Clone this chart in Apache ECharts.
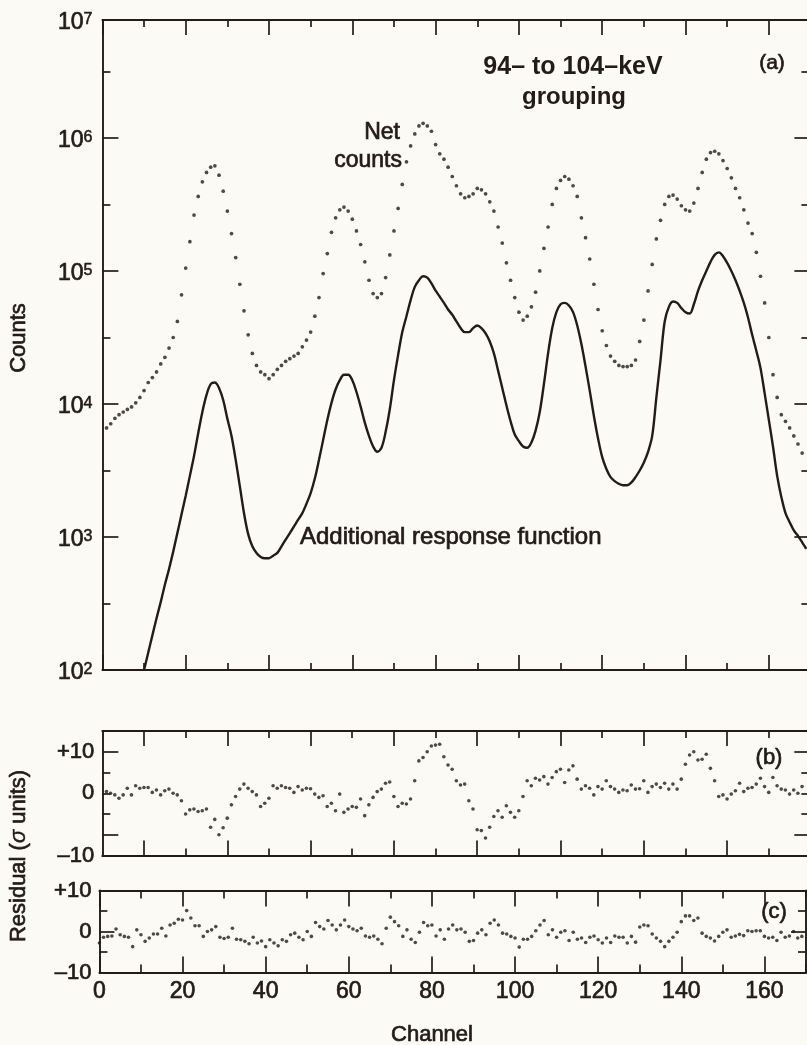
<!DOCTYPE html>
<html>
<head>
<meta charset="utf-8">
<script src="https://cdn.jsdelivr.net/npm/echarts@6.0.0/dist/echarts.min.js"></script>
<style>
html,body{margin:0;padding:0;background:#fbfaf5;}
#chart{width:807px;height:1045px;}
</style>
</head>
<body>
<div id="chart"></div>
<script>
// ---------------- DATA ----------------
// Panel (a): net counts, one dot per channel, starting at channel 1
const netStartChannel = 1;
const netCounts = [
  6600, 7100, 7800, 8300, 8700, 9100, 9500, 10200, 11200, 12600,
  14500, 15800, 17400, 20000, 22400, 26300, 31600, 41700, 66100, 105000,
  166000, 263000, 363000, 468000, 550000, 603000, 617000, 525000, 398000, 282000,
  191000, 126000, 79400, 50100, 33100, 24000, 19500, 17400, 16600, 15500,
  16600, 18200, 19500, 20900, 21900, 22900, 24000, 26900, 30200, 34700,
  45700, 63100, 95500, 135000, 195000, 251000, 288000, 302000, 282000, 245000,
  200000, 158000, 117000, 85100, 67600, 63100, 67600, 89100, 132000, 200000,
  295000, 447000, 661000, 871000, 1072000, 1230000, 1288000, 1230000, 1122000, 891000,
  759000, 692000, 603000, 513000, 437000, 380000, 355000, 363000, 380000, 417000,
  407000, 380000, 331000, 282000, 214000, 162000, 115000, 85100, 63100, 49000,
  42700, 45700, 53700, 69200, 100000, 148000, 214000, 316000, 417000, 479000,
  513000, 490000, 437000, 363000, 251000, 178000, 123000, 79400, 51300, 35500,
  27500, 22900, 20900, 19500, 19100, 19100, 19500, 21400, 29500, 42700,
  70800, 112000, 174000, 240000, 316000, 363000, 372000, 347000, 309000, 288000,
  282000, 324000, 417000, 550000, 692000, 776000, 794000, 759000, 676000, 589000,
  501000, 417000, 355000, 288000, 229000, 191000, 138000, 91200, 57500, 31600,
  16600, 11200, 8300, 7400, 6600, 5750, 5000, 4270
];
// Panel (a): additional response function, starting at channel 10
const responseStartChannel = 10;
const responseCounts = [
  100, 135, 182, 245, 324, 437, 575, 776, 1070, 1480,
  2040, 2880, 4070, 6030, 8710, 11700, 14100, 14500, 13200, 10700,
  7760, 5750, 3800, 2400, 1510, 1050, 851, 759, 708, 692,
  692, 724, 759, 851, 955, 1070, 1200, 1350, 1510, 1780,
  2140, 2750, 3800, 5370, 7590, 10200, 12900, 15100, 16600, 16600,
  15100, 12300, 9550, 7240, 5750, 4790, 4370, 4680, 6170, 9120,
  15100, 23400, 34700, 45700, 60300, 75900, 85100, 91200, 89100, 80500,
  71000, 64000, 57500, 51300, 46800, 41700, 37200, 34700, 34700, 37200,
  38900, 37200, 33900, 29500, 24000, 17800, 13200, 9770, 7410, 5890,
  5250, 4790, 4680, 5130, 6310, 8710, 14100, 24000, 37200, 49000,
  56200, 57500, 55000, 49000, 38900, 28200, 19100, 12600, 8130, 5500,
  3980, 3240, 2820, 2630, 2510, 2450, 2450, 2570, 2820, 3160,
  3630, 4370, 5750, 11200, 21400, 41700, 53700, 58900, 57500, 52500,
  49000, 47900, 56200, 70800, 85100, 100000, 117000, 132000, 138000, 129000,
  115000, 100000, 85100, 70800, 57500, 44700, 33100, 25100, 18600, 12000,
  7590, 4790, 2880, 2000, 1510, 1290, 1120, 1020, 912, 813
];
// Panel (b): residuals (sigma units), starting at channel 1
const residualBStart = 1;
const residualB = [
  0.4, 0.0, -0.4, -1.2, -0.4, 1.2, -0.4, 1.8, 1.2, 1.4,
  1.4, 0.2, 0.8, -0.4, 0.6, 1.0, 0.0, -0.4, -1.8, -5.0,
  -4.0, -3.8, -4.4, -4.2, -3.8, -8.2, -6.3, -10.0, -8.3, -6.0,
  -2.8, -0.8, 1.0, 2.2, 1.2, 0.4, -0.4, -3.2, -2.4, -1.2,
  1.8, 1.2, 1.8, 1.4, 1.2, 0.2, 1.6, 0.8, 1.2, 1.1,
  -0.2, -1.0, -0.6, -3.2, -2.4, -4.2, -0.2, -4.6, -3.8, -3.2,
  -3.4, -1.4, -5.4, -2.8, -1.0, 0.4, 1.0, 2.4, 2.7, -0.8,
  -3.2, -2.4, -2.6, -1.4, 3.0, 7.8, 8.6, 10.0, 11.4, 11.6,
  11.8, 8.8, 6.8, 5.8, 3.0, 2.0, 2.2, -1.8, -3.8, -8.8,
  -9.0, -10.8, -8.2, -5.6, -4.2, -5.8, -3.0, -4.6, -5.8, -4.2,
  -0.8, 3.0, 1.8, 3.6, 3.2, 4.0, 2.2, 3.8, 5.2, 5.8,
  2.6, 5.6, 6.6, 3.4, 1.0, 1.8, 1.2, -0.4, 1.6, 1.0,
  3.0, 1.6, 1.0, 0.2, 0.8, 0.6, 2.0, 1.0, 1.1, 3.0,
  0.2, 1.6, 2.2, 1.4, 2.4, 1.0, 2.2, 1.0, 3.4, 7.0,
  9.2, 10.0, 8.0, 8.2, 9.4, 6.0, 3.0, -0.8, -0.4, -1.4,
  -0.2, 0.6, 2.4, 0.4, 1.2, 1.4, 2.2, 3.6, 1.6, 0.2,
  3.8, 1.8, 1.0, 0.8, -0.2, 0.8, 0.0, 1.6
];
// Panel (c): residuals (sigma units), starting at channel 0
const residualCStart = 0;
const residualC = [
  -2.8, -1.4, -1.2, -1.1, 0.6, -0.8, -1.2, -1.4, -3.7, 0.4,
  -0.8, -2.4, -1.6, -0.6, -0.6, 0.8, -1.1, 1.6, 2.0, 3.0,
  2.8, 5.1, 3.3, 1.4, 1.4, -1.2, 0.0, 0.4, 1.2, -1.4,
  -1.7, -1.4, 0.8, -1.9, -2.0, -2.4, -3.0, -1.4, -2.8, -2.3,
  -3.7, -2.0, -2.8, -3.5, -2.0, -2.4, -0.8, -0.4, -1.4, -2.0,
  0.0, -1.2, 2.2, 1.2, 0.6, 2.7, 1.6, 0.4, 1.6, 2.8,
  1.2, 0.6, 0.2, 0.8, -1.1, -1.4, -1.1, -1.9, -3.0, 0.8,
  3.5, 2.4, 1.4, -1.2, 0.4, -1.9, -2.7, -0.2, 2.2, 1.4,
  1.6, -1.1, 0.4, -1.9, 0.6, 1.6, 0.4, 0.6, -0.2, -2.4,
  -2.2, -0.4, 0.4, -0.8, 2.0, 2.8, 1.6, -0.4, -0.6, -1.2,
  -1.6, -3.8, -1.9, -1.9, -1.2, 0.2, 1.6, 2.7, -0.8, 0.4,
  -1.4, -0.2, 0.2, -2.2, -0.2, -1.9, -1.6, -2.7, -1.4, -1.1,
  -2.0, -2.8, -1.6, -2.7, -1.1, -1.4, -1.4, -2.8, -1.2, -2.6,
  1.1, 1.6, 1.4, -0.6, -1.6, -2.4, -3.7, -2.4, -1.4, -0.2,
  2.4, 3.8, 3.8, 2.7, 3.3, -0.4, -1.2, -1.6, -2.3, -1.2,
  -0.2, 0.4, -1.4, -1.1, -0.7, -1.0, 0.2, 0.0, 0.2, 0.2,
  -1.2, -1.6, -1.4, -2.2, -0.2, -1.4, -1.1, 0.0, -1.6, -1.2
];

// ---------------- TICKS / LABELS ----------------
const channelEven20 = [0, 20, 40, 60, 80, 100, 120, 140, 160];
const channelOdd10 = [10, 30, 50, 70, 90, 110, 130, 150, 170];
const channelInner20 = [20, 40, 60, 80, 100, 120, 140, 160];
const channelLabels = [0, 20, 40, 60, 80, 100, 120, 140, 160];
const countDecades = [1e2, 1e3, 1e4, 1e5, 1e6];
const countHalfDecades = [316.23, 3162.3, 31623, 316228, 3162278];
const countAxisMin = 100;
const countAxisMax = 7.7e6;            // top edge of panel (a), labelled "10^7" in the figure
const countLabelValues = [1e2, 1e3, 1e4, 1e5, 1e6, 7.7e6];
const resBLongTicks = [-10, 10];
const resBShortTicks = [-5, 0, 5];
const resBLabelValues = [-15, 0, 10];
const resBLabelTexts = ['–10', '0', '+10'];
const resCLongTicks = [0];
const resCShortTicks = [-5, 5];
const resCLabelValues = [-10, 0, 10];
const resCLabelTexts = ['–10', '0', '+10'];

// ---------------- STYLE ----------------
const INK = '#231b1b';
const FONT = '"Liberation Sans", Arial, Helvetica, sans-serif';
const THICK = 0.7;   // text outline to mimic the medium-weight lettering

const xAxes = [];
const yAxes = [];

function tickAxis(grid, pos, min, max, vals, len, lineShow, label, type) {
  return {
    type: type || 'value',
    logBase: 10,
    gridIndex: grid,
    position: pos,
    min: min, max: max,
    splitLine: {show: false},
    axisPointer: {show: false},
    axisLine: {show: lineShow, onZero: false, lineStyle: {color: INK, width: 1.9}},
    axisTick: {show: true, inside: true, length: len, customValues: vals,
               lineStyle: {color: INK, width: 1.7}},
    axisLabel: label || {show: false}
  };
}

// ----- panel (a) -----
xAxes.push(tickAxis(0, 'bottom', 0, 169.5, channelEven20, 15, true));
xAxes.push(tickAxis(0, 'bottom', 0, 169.5, channelOdd10, 7, false));
xAxes.push(tickAxis(0, 'top', 0, 169.5, channelEven20, 15, true));
xAxes.push(tickAxis(0, 'top', 0, 169.5, channelOdd10, 7, false));
const countLabel = {
  show: true, customValues: countLabelValues, margin: 10,
  padding: [6, 0, 0, 0],
  formatter: function (v) {
    const e = v > 5e6 ? 7 : Math.round(Math.log10(v));
    return '{b|10}{s|' + e + '}';
  },
  rich: {
    b: {fontSize: 23, lineHeight: 23, fontFamily: FONT, color: INK, verticalAlign: 'bottom',
        textBorderColor: INK, textBorderWidth: THICK},
    s: {fontSize: 16, lineHeight: 16, fontFamily: FONT, color: INK, verticalAlign: 'top',
        textBorderColor: INK, textBorderWidth: THICK * 0.8}
  }
};
yAxes.push(tickAxis(0, 'left', countAxisMin, countAxisMax, countDecades, 16, true, countLabel, 'log'));
yAxes.push(tickAxis(0, 'left', countAxisMin, countAxisMax, countHalfDecades, 8, false, null, 'log'));
yAxes.push(tickAxis(0, 'right', countAxisMin, countAxisMax, countDecades, 14, true, null, 'log'));
yAxes.push(tickAxis(0, 'right', countAxisMin, countAxisMax, countHalfDecades, 7, false, null, 'log'));

// ----- panel (b) -----
xAxes.push(tickAxis(1, 'bottom', 0, 169.5, channelOdd10, 15, true));
xAxes.push(tickAxis(1, 'bottom', 0, 169.5, channelInner20, 7, false));
xAxes.push(tickAxis(1, 'top', 0, 169.5, channelOdd10, 15, true));
xAxes.push(tickAxis(1, 'top', 0, 169.5, channelInner20, 7, false));
const resBLabel = {
  show: true, customValues: resBLabelValues, margin: 8,
  fontSize: 22, fontFamily: FONT, color: INK, padding: [2, 0, 0, 0],
  textBorderColor: INK, textBorderWidth: THICK,
  formatter: function (v) { return resBLabelTexts[resBLabelValues.indexOf(v)]; }
};
yAxes.push(tickAxis(1, 'left', -15, 15, resBLongTicks, 16, true, resBLabel));
yAxes.push(tickAxis(1, 'left', -15, 15, resBShortTicks, 8, false));
yAxes.push(tickAxis(1, 'right', -15, 15, resBLongTicks, 14, true));
yAxes.push(tickAxis(1, 'right', -15, 15, resBShortTicks, 7, false));

// ----- panel (c) -----
const chanLabel = {
  show: true, customValues: channelLabels, margin: 8,
  fontSize: 23, fontFamily: FONT, color: INK,
  textBorderColor: INK, textBorderWidth: THICK
};
xAxes.push(tickAxis(2, 'bottom', 0, 170, channelEven20, 16, true, chanLabel));
xAxes.push(tickAxis(2, 'bottom', 0, 170, channelOdd10, 8, false));
xAxes.push(tickAxis(2, 'top', 0, 170, channelEven20, 16, true));
xAxes.push(tickAxis(2, 'top', 0, 170, channelOdd10, 8, false));
const resCLabel = {
  show: true, customValues: resCLabelValues, margin: 8,
  fontSize: 22, fontFamily: FONT, color: INK,
  textBorderColor: INK, textBorderWidth: THICK,
  formatter: function (v) { return resCLabelTexts[resCLabelValues.indexOf(v)]; }
};
yAxes.push(tickAxis(2, 'left', -10, 10, resCLongTicks, 15, true, resCLabel));
yAxes.push(tickAxis(2, 'left', -10, 10, resCShortTicks, 8, false));
yAxes.push(tickAxis(2, 'right', -10, 10, resCLongTicks, 15, true));
yAxes.push(tickAxis(2, 'right', -10, 10, resCShortTicks, 8, false));

function pairs(start, arr) { return arr.map(function (v, i) { return [start + i, v]; }); }

function textStyle(text, size, align, weight, italic) {
  const st = {
    text: text, x: 0, y: 0,
    fill: INK, fontSize: size, fontFamily: FONT, fontWeight: weight || 'normal',
    fontStyle: italic ? 'italic' : 'normal',
    align: align, textAlign: align,
    verticalAlign: 'middle', textVerticalAlign: 'middle'
  };
  if (weight !== 'bold') { st.stroke = INK; st.lineWidth = italic ? THICK * 0.6 : THICK; }
  return st;
}
function label(x, y, text, size, align, weight, rot) {
  const el = {type: 'text', x: x, y: y, silent: true, style: textStyle(text, size, align, weight)};
  if (rot) el.rotation = rot;
  return el;
}

const graphics = [
  label(573, 67, '94– to 104–keV', 25, 'center', 'bold'),
  label(574, 97, 'grouping', 24, 'center', 'bold'),
  label(772, 63, '(a)', 21, 'center'),
  label(400, 133, 'Net', 23, 'right'),
  label(402, 161, 'counts', 23, 'right'),
  label(300, 537, 'Additional response function', 24, 'left'),
  label(769, 758, '(b)', 22, 'center'),
  label(774, 912, '(c)', 22, 'center'),
  label(19, 338, 'Counts', 22, 'center', 'normal', Math.PI / 2),
  label(432, 1035, 'Channel', 22, 'center')
];

// "Residual (σ units)" with an italic sigma: three pieces laid out along the rotated baseline
const residualTitleParts = ['Residual (', 'σ', ' units)'];
(function () {
  const ctx = document.createElement('canvas').getContext('2d');
  const widths = residualTitleParts.map(function (t, i) {
    ctx.font = (i === 1 ? 'italic ' : '') + '22px ' + FONT;
    return ctx.measureText(t).width;
  });
  const total = widths.reduce(function (a, b) { return a + b; }, 0);
  let cursor = -total / 2;
  const children = residualTitleParts.map(function (t, i) {
    const el = {type: 'text', x: cursor, y: 0, silent: true,
                style: textStyle(t, 22, 'left', 'normal', i === 1)};
    cursor += widths[i];
    return el;
  });
  graphics.push({type: 'group', x: 19, y: 856, rotation: Math.PI / 2, silent: true, children: children});
})();

const option = {
  backgroundColor: '#fbfaf5',
  animation: false,
  grid: [
    {left: 102.4, top: 20, width: 706, height: 650, containLabel: false, outerBoundsMode: 'none'},
    {left: 102.3, top: 731, width: 706, height: 124.5, containLabel: false, outerBoundsMode: 'none'},
    {left: 99.4, top: 890.5, width: 706.6, height: 82, containLabel: false, outerBoundsMode: 'none'}
  ],
  xAxis: xAxes,
  yAxis: yAxes,
  series: [
    {
      name: 'Net counts', type: 'scatter', xAxisIndex: 0, yAxisIndex: 0,
      data: pairs(netStartChannel, netCounts),
      symbol: 'circle', symbolSize: 3.7, itemStyle: {color: INK}, silent: true
    },
    {
      name: 'Additional response function', type: 'line', xAxisIndex: 0, yAxisIndex: 0,
      data: pairs(responseStartChannel, responseCounts),
      showSymbol: false, smooth: 0.35, lineStyle: {color: INK, width: 2.4}, silent: true
    },
    {
      name: 'Residual (b)', type: 'scatter', xAxisIndex: 4, yAxisIndex: 4,
      data: pairs(residualBStart, residualB),
      symbol: 'circle', symbolSize: 3.6, itemStyle: {color: INK}, silent: true
    },
    {
      name: 'Residual (c)', type: 'scatter', xAxisIndex: 8, yAxisIndex: 8,
      data: pairs(residualCStart, residualC),
      symbol: 'circle', symbolSize: 3.6, itemStyle: {color: INK}, silent: true
    }
  ],
  graphic: graphics
};

const chart = echarts.init(document.getElementById('chart'), null, {renderer: 'canvas'});
chart.setOption(option);
</script>
</body>
</html>
